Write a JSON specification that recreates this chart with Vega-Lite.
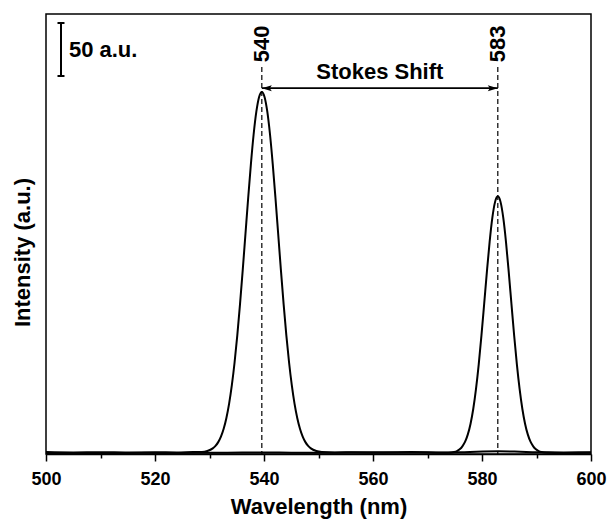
{
  "$schema": "https://vega.github.io/schema/vega-lite/v6.json",
  "width": 545,
  "height": 440,
  "autosize": {"type": "none"},
  "padding": {"left": 46, "top": 14, "right": 16, "bottom": 73},
  "background": "white",
  "config": {
    "view": {"stroke": "black", "strokeWidth": 1.5},
    "font": "Liberation Sans"
  },
  "datasets": {
    "spectra": [
      {"s": "ex", "x": 500, "y": 1.8}, {"s": "ex", "x": 505, "y": 1.5}, {"s": "ex", "x": 510, "y": 1.7}, {"s": "ex", "x": 515, "y": 1.4},
      {"s": "ex", "x": 520, "y": 1.6}, {"s": "ex", "x": 524, "y": 1.5}, {"s": "ex", "x": 527, "y": 1.8}, {"s": "ex", "x": 528.6, "y": 1.9},
      {"s": "ex", "x": 529.6, "y": 2.8}, {"s": "ex", "x": 530.6, "y": 5.3}, {"s": "ex", "x": 531.1, "y": 7.7}, {"s": "ex", "x": 531.6, "y": 11.2},
      {"s": "ex", "x": 532.1, "y": 16.4}, {"s": "ex", "x": 532.6, "y": 23.8}, {"s": "ex", "x": 533.1, "y": 34.0}, {"s": "ex", "x": 533.6, "y": 47.5},
      {"s": "ex", "x": 534.1, "y": 64.9}, {"s": "ex", "x": 534.6, "y": 86.3}, {"s": "ex", "x": 535.1, "y": 111.9}, {"s": "ex", "x": 535.6, "y": 141.3},
      {"s": "ex", "x": 536.1, "y": 173.6}, {"s": "ex", "x": 536.6, "y": 207.7}, {"s": "ex", "x": 537.1, "y": 241.7}, {"s": "ex", "x": 537.6, "y": 273.7},
      {"s": "ex", "x": 538.1, "y": 301.6}, {"s": "ex", "x": 538.6, "y": 323.1}, {"s": "ex", "x": 539.1, "y": 336.8}, {"s": "ex", "x": 539.6, "y": 341.5},
      {"s": "ex", "x": 540.1, "y": 336.8}, {"s": "ex", "x": 540.6, "y": 323.1}, {"s": "ex", "x": 541.1, "y": 301.6}, {"s": "ex", "x": 541.6, "y": 273.7},
      {"s": "ex", "x": 542.1, "y": 241.7}, {"s": "ex", "x": 542.6, "y": 207.7}, {"s": "ex", "x": 543.1, "y": 173.6}, {"s": "ex", "x": 543.6, "y": 141.3},
      {"s": "ex", "x": 544.1, "y": 111.9}, {"s": "ex", "x": 544.6, "y": 86.3}, {"s": "ex", "x": 545.1, "y": 64.9}, {"s": "ex", "x": 545.6, "y": 47.5},
      {"s": "ex", "x": 546.1, "y": 34.0}, {"s": "ex", "x": 546.6, "y": 23.8}, {"s": "ex", "x": 547.1, "y": 16.4}, {"s": "ex", "x": 547.6, "y": 11.2},
      {"s": "ex", "x": 548.1, "y": 7.7}, {"s": "ex", "x": 548.6, "y": 5.3}, {"s": "ex", "x": 549.6, "y": 2.8}, {"s": "ex", "x": 550.6, "y": 1.9},
      {"s": "ex", "x": 553, "y": 1.5}, {"s": "ex", "x": 557, "y": 1.7}, {"s": "ex", "x": 562, "y": 1.6}, {"s": "ex", "x": 567, "y": 1.8},
      {"s": "ex", "x": 572, "y": 1.5}, {"s": "ex", "x": 576, "y": 1.6}, {"s": "ex", "x": 579, "y": 2.2}, {"s": "ex", "x": 583, "y": 2.6},
      {"s": "ex", "x": 587, "y": 2.1}, {"s": "ex", "x": 590, "y": 1.6}, {"s": "ex", "x": 595, "y": 1.5}, {"s": "ex", "x": 600, "y": 1.6},
      {"s": "em", "x": 500, "y": 0.8}, {"s": "em", "x": 506, "y": 1.0}, {"s": "em", "x": 512, "y": 0.9}, {"s": "em", "x": 518, "y": 1.1},
      {"s": "em", "x": 524, "y": 1.0}, {"s": "em", "x": 530, "y": 1.2}, {"s": "em", "x": 536, "y": 1.3}, {"s": "em", "x": 540, "y": 1.4},
      {"s": "em", "x": 545, "y": 1.2}, {"s": "em", "x": 550, "y": 1.1}, {"s": "em", "x": 556, "y": 1.3}, {"s": "em", "x": 562, "y": 1.2},
      {"s": "em", "x": 568, "y": 1.4}, {"s": "em", "x": 572, "y": 1.2}, {"s": "em", "x": 573.9, "y": 1.2}, {"s": "em", "x": 574.9, "y": 1.9},
      {"s": "em", "x": 575.4, "y": 2.8}, {"s": "em", "x": 575.9, "y": 4.4}, {"s": "em", "x": 576.4, "y": 7.2}, {"s": "em", "x": 576.9, "y": 11.6},
      {"s": "em", "x": 577.4, "y": 18.5}, {"s": "em", "x": 577.9, "y": 28.6}, {"s": "em", "x": 578.4, "y": 42.7}, {"s": "em", "x": 578.9, "y": 61.4},
      {"s": "em", "x": 579.4, "y": 84.6}, {"s": "em", "x": 579.9, "y": 111.8}, {"s": "em", "x": 580.4, "y": 141.7}, {"s": "em", "x": 580.9, "y": 172.0},
      {"s": "em", "x": 581.4, "y": 200.1}, {"s": "em", "x": 581.9, "y": 222.9}, {"s": "em", "x": 582.4, "y": 237.8}, {"s": "em", "x": 582.9, "y": 243.0},
      {"s": "em", "x": 583.4, "y": 237.8}, {"s": "em", "x": 583.9, "y": 222.9}, {"s": "em", "x": 584.4, "y": 200.1}, {"s": "em", "x": 584.9, "y": 172.0},
      {"s": "em", "x": 585.4, "y": 141.7}, {"s": "em", "x": 585.9, "y": 111.8}, {"s": "em", "x": 586.4, "y": 84.6}, {"s": "em", "x": 586.9, "y": 61.4},
      {"s": "em", "x": 587.4, "y": 42.7}, {"s": "em", "x": 587.9, "y": 28.6}, {"s": "em", "x": 588.4, "y": 18.5}, {"s": "em", "x": 588.9, "y": 11.6},
      {"s": "em", "x": 589.4, "y": 7.2}, {"s": "em", "x": 589.9, "y": 4.4}, {"s": "em", "x": 590.4, "y": 2.8}, {"s": "em", "x": 590.9, "y": 1.9},
      {"s": "em", "x": 591.9, "y": 1.2}, {"s": "em", "x": 595, "y": 1.0}, {"s": "em", "x": 600, "y": 1.1}
    ],
    "peaks": [
      {"x": 539.6, "y": 365, "y2": 0, "label": "540", "ly": 369.5},
      {"x": 582.9, "y": 365, "y2": 0, "label": "583", "ly": 369.5}
    ],
    "arrow": [{"x": 539.6, "x2": 582.9, "y": 345}],
    "heads": [
      {"x": 539.6, "y": 345, "dir": "l"},
      {"x": 582.9, "y": 345, "dir": "r"}
    ],
    "stokes": [{"x": 561.25, "y": 353.7, "t": "Stokes Shift"}],
    "bar": [{"x": 502.75, "y": 356.5, "y2": 406.5}],
    "caps": [{"x": 502.75, "y": 356.5}, {"x": 502.75, "y": 406.5}],
    "barlabel": [{"x": 504.2, "y": 374.2, "t": "50 a.u."}]
  },
  "encoding": {
    "x": {
      "field": "x", "type": "quantitative",
      "scale": {"domain": [500, 600], "nice": false, "zero": false},
      "axis": {
        "title": "Wavelength (nm)",
        "values": [500, 510, 520, 530, 540, 550, 560, 570, 580, 590, 600],
        "labelExpr": "datum.value % 20 === 0 ? datum.label : ''",
        "tickSize": {"condition": {"test": "datum.value % 20 === 0", "value": 7}, "value": 4},
        "tickColor": "black", "tickWidth": 1.5,
        "domainColor": "black", "domainWidth": 1.5,
        "grid": false,
        "labelFont": "Liberation Sans", "labelFontSize": 18, "labelFontWeight": "bold", "labelColor": "black",
        "labelPadding": 9, "labelFlush": false, "labelOverlap": false,
        "titleFont": "Liberation Sans", "titleFontSize": 22, "titleFontWeight": "bold", "titleColor": "black",
        "titlePadding": 8
      }
    },
    "y": {
      "field": "y", "type": "quantitative",
      "scale": {"domain": [0, 415], "nice": false, "zero": false},
      "axis": {
        "title": "Intensity (a.u.)",
        "ticks": false, "labels": false, "domain": false, "grid": false,
        "titleFont": "Liberation Sans", "titleFontSize": 22, "titleFontWeight": "bold", "titleColor": "black",
        "titlePadding": 12, "titleY": 238
      }
    }
  },
  "layer": [
    {
      "data": {"name": "spectra"},
      "mark": {"type": "line", "color": "black", "strokeWidth": 2, "interpolate": "monotone"},
      "encoding": {"detail": {"field": "s"}}
    },
    {
      "data": {"name": "peaks"},
      "mark": {"type": "rule", "color": "black", "strokeWidth": 1.2, "strokeDash": [5, 3]},
      "encoding": {"y2": {"field": "y2"}}
    },
    {
      "data": {"name": "peaks"},
      "mark": {"type": "text", "angle": 270, "align": "left", "baseline": "middle", "font": "Liberation Sans", "fontSize": 22, "fontWeight": "bold", "color": "black"},
      "encoding": {"y": {"field": "ly", "type": "quantitative"}, "text": {"field": "label"}}
    },
    {
      "data": {"name": "arrow"},
      "mark": {"type": "rule", "color": "black", "strokeWidth": 1.8},
      "encoding": {"x2": {"field": "x2"}}
    },
    {
      "data": {"name": "heads"},
      "mark": {"type": "point", "filled": true, "color": "black", "opacity": 1, "size": 100},
      "encoding": {
        "shape": {"field": "dir", "type": "nominal", "legend": null,
          "scale": {"domain": ["l", "r"], "range": ["M0,0 L2,-0.6 L1.6,0 L2,0.6 Z", "M0,0 L-2,-0.6 L-1.6,0 L-2,0.6 Z"]}}
      }
    },
    {
      "data": {"name": "stokes"},
      "mark": {"type": "text", "align": "center", "baseline": "alphabetic", "font": "Liberation Sans", "fontSize": 22, "fontWeight": "bold", "color": "black"},
      "encoding": {"text": {"field": "t"}}
    },
    {
      "data": {"name": "bar"},
      "mark": {"type": "rule", "color": "black", "strokeWidth": 2},
      "encoding": {"y2": {"field": "y2"}}
    },
    {
      "data": {"name": "caps"},
      "mark": {"type": "tick", "orient": "horizontal", "color": "black", "size": 7, "thickness": 2, "opacity": 1}
    },
    {
      "data": {"name": "barlabel"},
      "mark": {"type": "text", "align": "left", "baseline": "alphabetic", "font": "Liberation Sans", "fontSize": 22, "fontWeight": "bold", "color": "black"},
      "encoding": {"text": {"field": "t"}}
    }
  ]
}
